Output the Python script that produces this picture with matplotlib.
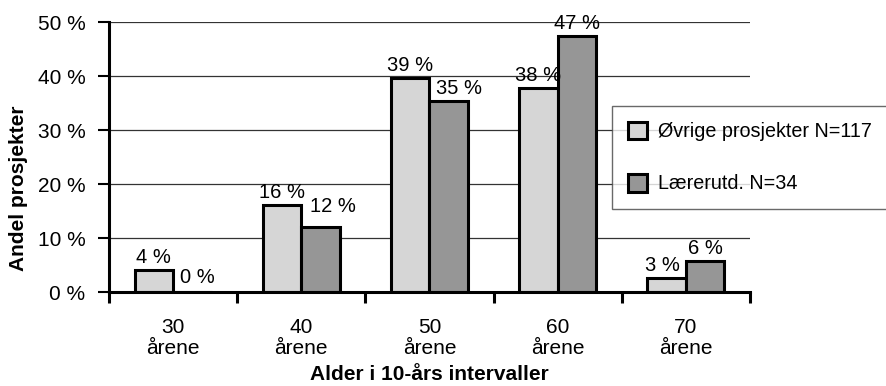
import matplotlib.pyplot as plt
import numpy as np

plt.rcParams['font.family'] = ['Liberation Sans', 'DejaVu Sans']

categories = ["30\nårene", "40\nårene", "50\nårene", "60\nårene", "70\nårene"]
ovrige = [4.1, 16.1, 39.7, 37.8, 2.6]      # Øvrige prosjekter N=117
larer = [0.0, 12.0, 35.4, 47.4, 5.7]       # Lærerutd. N=34
ovrige_labels = [4, 16, 39, 38, 3]
larer_labels = [0, 12, 35, 47, 6]
series_names = ["Øvrige prosjekter N=117", "Lærerutd. N=34"]
yticks = [0, 10, 20, 30, 40, 50]

light = '#d6d6d6'
dark = '#969696'
fs = 15

# label nudges in pixels (Excel moves some labels to avoid overlap)
nudge_light = [(0, 0), (0, 0), (0, 0), (0, 0), (-4, 0)]
nudge_dark = [(5, 2), (12, 8), (10, 0), (0, 0), (0, 0)]

fig = plt.figure(figsize=(8.87, 3.86), dpi=100)
ax = fig.add_axes([109 / 887, 1 - 292 / 386, (750 - 109) / 887, (292 - 22) / 386])

x = np.arange(len(categories))
w = 0.3
b1 = ax.bar(x - w / 2, ovrige, w, color=light, edgecolor='black', linewidth=2.2,
            label=series_names[0], zorder=3)
b2 = ax.bar(x + w / 2, larer, w, color=dark, edgecolor='black', linewidth=2.2,
            label=series_names[1], zorder=3)

for bars, labs, nudges in [(b1, ovrige_labels, nudge_light), (b2, larer_labels, nudge_dark)]:
    for rect, lab, (dx, dy) in zip(bars, labs, nudges):
        ax.annotate(f"{lab} %", (rect.get_x() + rect.get_width() / 2, rect.get_height()),
                    xytext=(dx * 0.72, 2 + dy * 0.72), textcoords='offset points',
                    ha='center', va='bottom', fontsize=14.5, zorder=4)

ax.set_xlim(-0.5, len(categories) - 0.5)
ax.set_ylim(0, 50)
ax.set_yticks(yticks)
ax.set_yticklabels([f"{t} %" for t in yticks], fontsize=fs)
ax.yaxis.grid(True, color='#333333', linewidth=0.9, zorder=0)
ax.set_axisbelow(True)

ax.set_xticks(x)
ax.set_xticklabels(categories, fontsize=fs, linespacing=1.1)
ax.set_xticks(np.arange(len(categories) + 1) - 0.5, minor=True)
ax.tick_params(axis='x', which='major', length=0, pad=19)
ax.tick_params(axis='x', which='minor', length=8, width=2.2, direction='out')
ax.tick_params(axis='y', length=8, width=1.5, direction='out', pad=9)

for s in ['top', 'right']:
    ax.spines[s].set_visible(False)
for s in ['left', 'bottom']:
    ax.spines[s].set_linewidth(2.2)
    ax.spines[s].set_zorder(5)

ax.set_ylabel("Andel prosjekter", fontsize=fs, fontweight='bold')
ax.yaxis.set_label_coords((28 - 109) / 641, (292 - 188) / 270)
ax.set_xlabel("Alder i 10-års intervaller", fontsize=fs, fontweight='bold', labelpad=5)

leg = fig.legend(handles=[b1, b2], loc='upper left',
                 bbox_to_anchor=(612 / 887, 1 - 106 / 386, 0.32, 0), mode='expand',
                 fontsize=14.2, frameon=True, fancybox=False, handlelength=1.0,
                 handleheight=1.0, handletextpad=0.55, labelspacing=1.65,
                 borderpad=0.8, borderaxespad=0)
leg.get_frame().set_edgecolor('#444444')
leg.get_frame().set_linewidth(1)

fig.savefig("out.png", dpi=100)
